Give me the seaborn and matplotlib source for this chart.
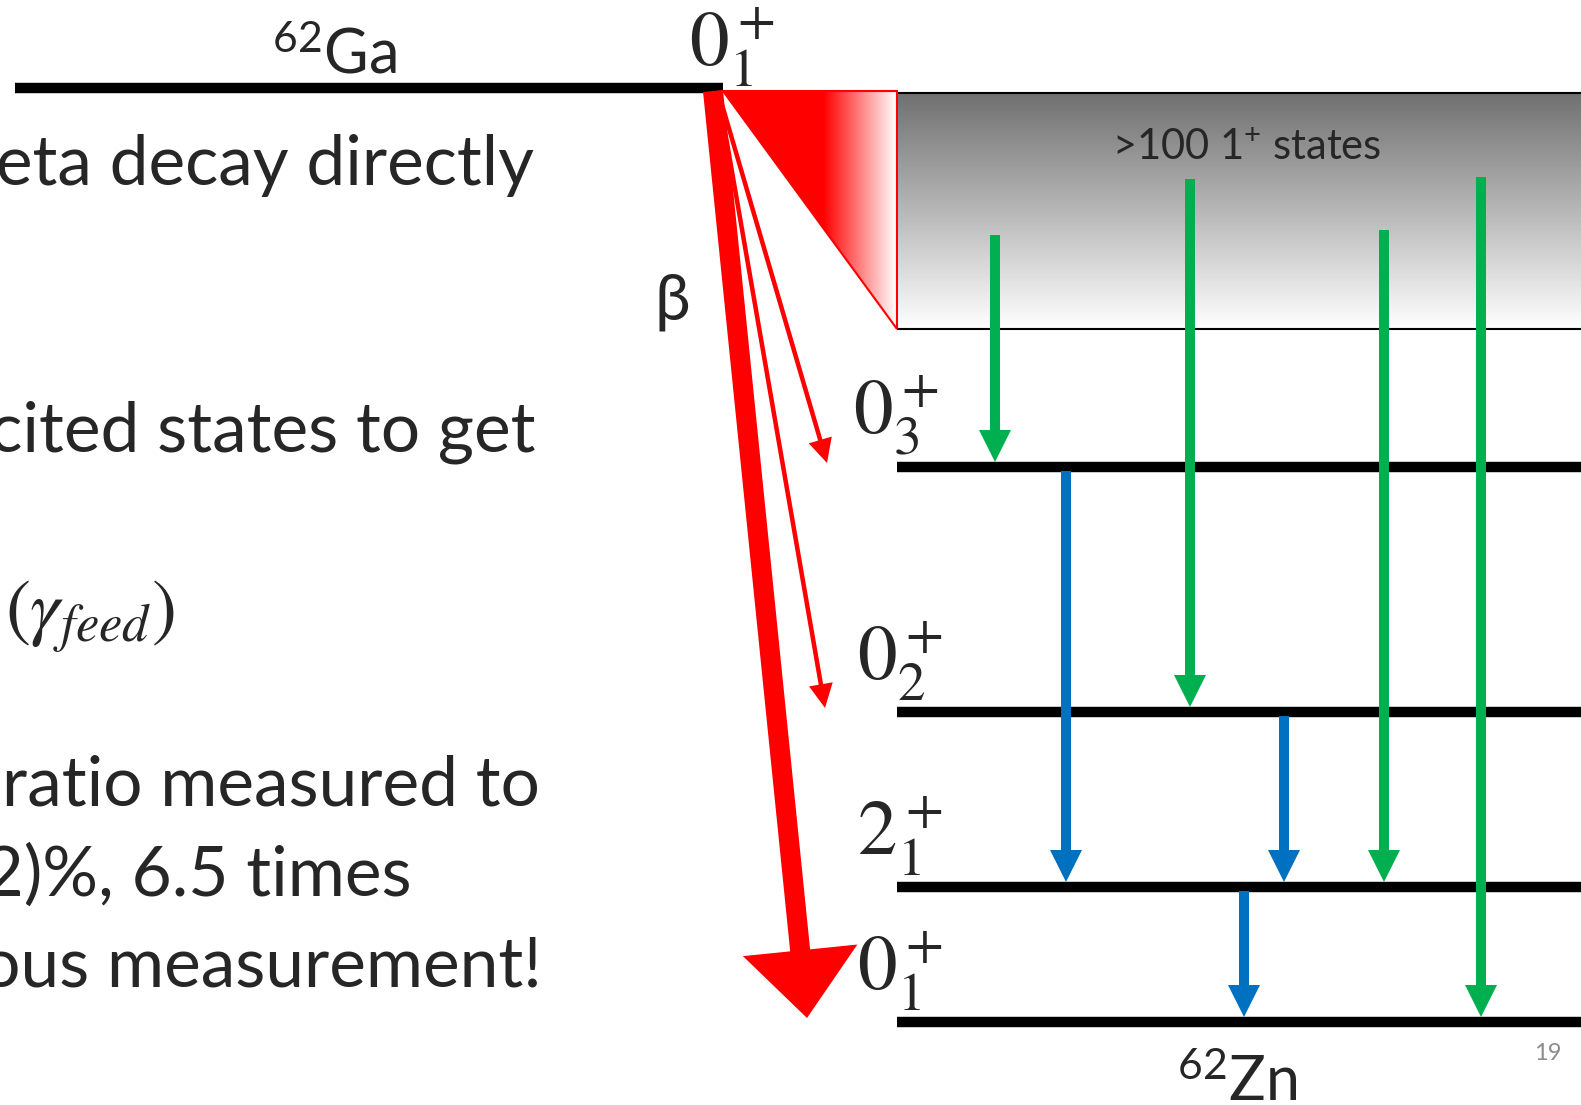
import numpy as np
import matplotlib
matplotlib.use("Agg")
import matplotlib.pyplot as plt
import seaborn as sns
from matplotlib.patches import Polygon

# Beta decay of 62Ga into 62Zn - level scheme slide

sns.set_theme(style="white")
plt.rcParams["font.family"] = ["Lato", "DejaVu Sans"]
plt.rcParams["mathtext.fontset"] = "custom"
plt.rcParams["mathtext.rm"] = "Lato"
plt.rcParams["mathtext.it"] = "Lato:italic"

W, H = 1581, 1105

# -----------------------------
# Data (pixel positions of the scheme)
# -----------------------------

# parent level
ga_label = r"$0_1^+$"
ga_y = 88
ga_x = [15, 723]

# daughter levels in 62Zn
zn_labels = [r"$0_3^+$", r"$0_2^+$", r"$2_1^+$", r"$0_1^+$"]
zn_y = [467, 712, 887, 1022]
zn_label_x = [853, 857, 857, 857]
zn_x = [897, 1581]

# the >100 1+ states block
cont_top = 93
cont_bottom = 329

# gammas from the 1+ states (green): x, start y, target level
feed_x = [995, 1190, 1384, 1481]
feed_top = [235, 179, 230, 177]
feed_to = [0, 1, 2, 3]

# gammas between discrete levels (blue): x, from level, to level
disc_x = [1066, 1284, 1244]
disc_from = [0, 1, 2]
disc_to = [2, 2, 3]

# beta branches (red): tip x, target level, shaft, head width, head length
beta_tip_x = [827, 825, 807]
beta_to = [0, 1, 3]
beta_width = [4.5, 4.5, 20]
beta_head_w = [24, 24, 115]
beta_head_l = [24, 24, 68]

# slide text (right edge x, baseline y, text)
text_lines = ["beta decay directly", "excited states to get", "ratio measured to",
              "(2)%, 6.5 times", "previous measurement!"]
text_right = [534, 536, 540, 412, 542]
text_base = [185, 452, 806, 896, 987]

# -----------------------------
# Figure
# -----------------------------

fig = plt.figure(figsize=(W / 100, H / 100), dpi=100)
ax = fig.add_axes([0, 0, 1, 1])

# grey gradient block of the 1+ states
g = np.linspace(0.44, 1.0, 256)[:, None]
grey = np.dstack([g, g, g])
ax.imshow(grey, extent=(zn_x[0], W, cont_bottom, cont_top), origin="upper",
          aspect="auto", interpolation="bilinear", zorder=1)
ax.hlines([cont_top, cont_bottom], zn_x[0], W, color="black", lw=1.5, zorder=2)

# red gradient triangle
t = np.linspace(0, 1, 256)
alpha = np.clip((1 - t) / 0.42, 0, 1)
red = np.zeros((1, 256, 4))
red[..., 0] = 1.0
red[..., 3] = alpha
tri = Polygon([[ga_x[1], cont_top - 2], [zn_x[0], cont_top - 2], [zn_x[0], cont_bottom]],
              closed=True, facecolor="none", edgecolor="red", lw=1.5, zorder=3)
ax.add_patch(tri)
im = ax.imshow(red, extent=(ga_x[1], zn_x[0], cont_bottom, cont_top - 2), origin="upper",
               aspect="auto", interpolation="bilinear", zorder=2)
im.set_clip_path(tri)

# levels
ax.hlines(ga_y, ga_x[0], ga_x[1], color="black", lw=7.5, zorder=4)
ax.hlines(zn_y, zn_x[0], zn_x[1], color="black", lw=7.5, zorder=4)

# green feeding gammas
for x, y0, lv in zip(feed_x, feed_top, feed_to):
    y1 = zn_y[lv] - 5
    ax.arrow(x, y0, 0, y1 - y0, width=10, head_width=32, head_length=32,
             length_includes_head=True, color="#00B050", lw=0, zorder=5)

# blue gammas between levels
for x, a, b in zip(disc_x, disc_from, disc_to):
    y0 = zn_y[a] + 4
    y1 = zn_y[b] - 5
    ax.arrow(x, y0, 0, y1 - y0, width=10, head_width=32, head_length=32,
             length_includes_head=True, color="#0070C0", lw=0, zorder=5)

# beta branches
for tx, lv, w, hw, hl in zip(beta_tip_x, beta_to, beta_width, beta_head_w, beta_head_l):
    x0 = 713 if w > 10 else 718
    y0 = ga_y + 3
    y1 = zn_y[lv] - 4
    ax.arrow(x0, y0, tx - x0, y1 - y0, width=w, head_width=hw, head_length=hl,
             length_includes_head=True, color="red", lw=0, zorder=6)

# level labels
ax.text(689, ga_y + 1, ga_label, math_fontfamily="stix", fontsize=57,
        ha="left", va="bottom", zorder=7)
for lab, x, y in zip(zn_labels, zn_label_x, zn_y):
    ax.text(x, y - 9, lab, math_fontfamily="stix", fontsize=57,
            ha="left", va="bottom", zorder=7)

ax.text(334, 74, r"$^{62}$Ga", fontsize=44, ha="center", va="baseline")
ax.text(1237, 1101, r"$^{62}$Zn", fontsize=44, ha="center", va="baseline")
ax.text(672, 302, "β", fontsize=46, ha="center", va="center",
        family=["Lato", "DejaVu Sans"])
ax.text(1247, 160, r">100 1$^{+}$ states", fontsize=30, ha="center", va="baseline")
ax.text(1548, 1054, "19", fontsize=17, color="#8c8c8c", ha="center", va="center")

# slide text (cut at the left edge)
for s, x, y in zip(text_lines, text_right, text_base):
    ax.text(x, y, s, fontsize=50, ha="right", va="baseline")
ax.text(5, 633, r"$(\gamma_{feed})$", math_fontfamily="stix", fontsize=54,
        ha="left", va="baseline")

ax.set_xlim(0, W)
ax.set_ylim(H, 0)
ax.axis("off")

plt.savefig("out.png", dpi=100)
